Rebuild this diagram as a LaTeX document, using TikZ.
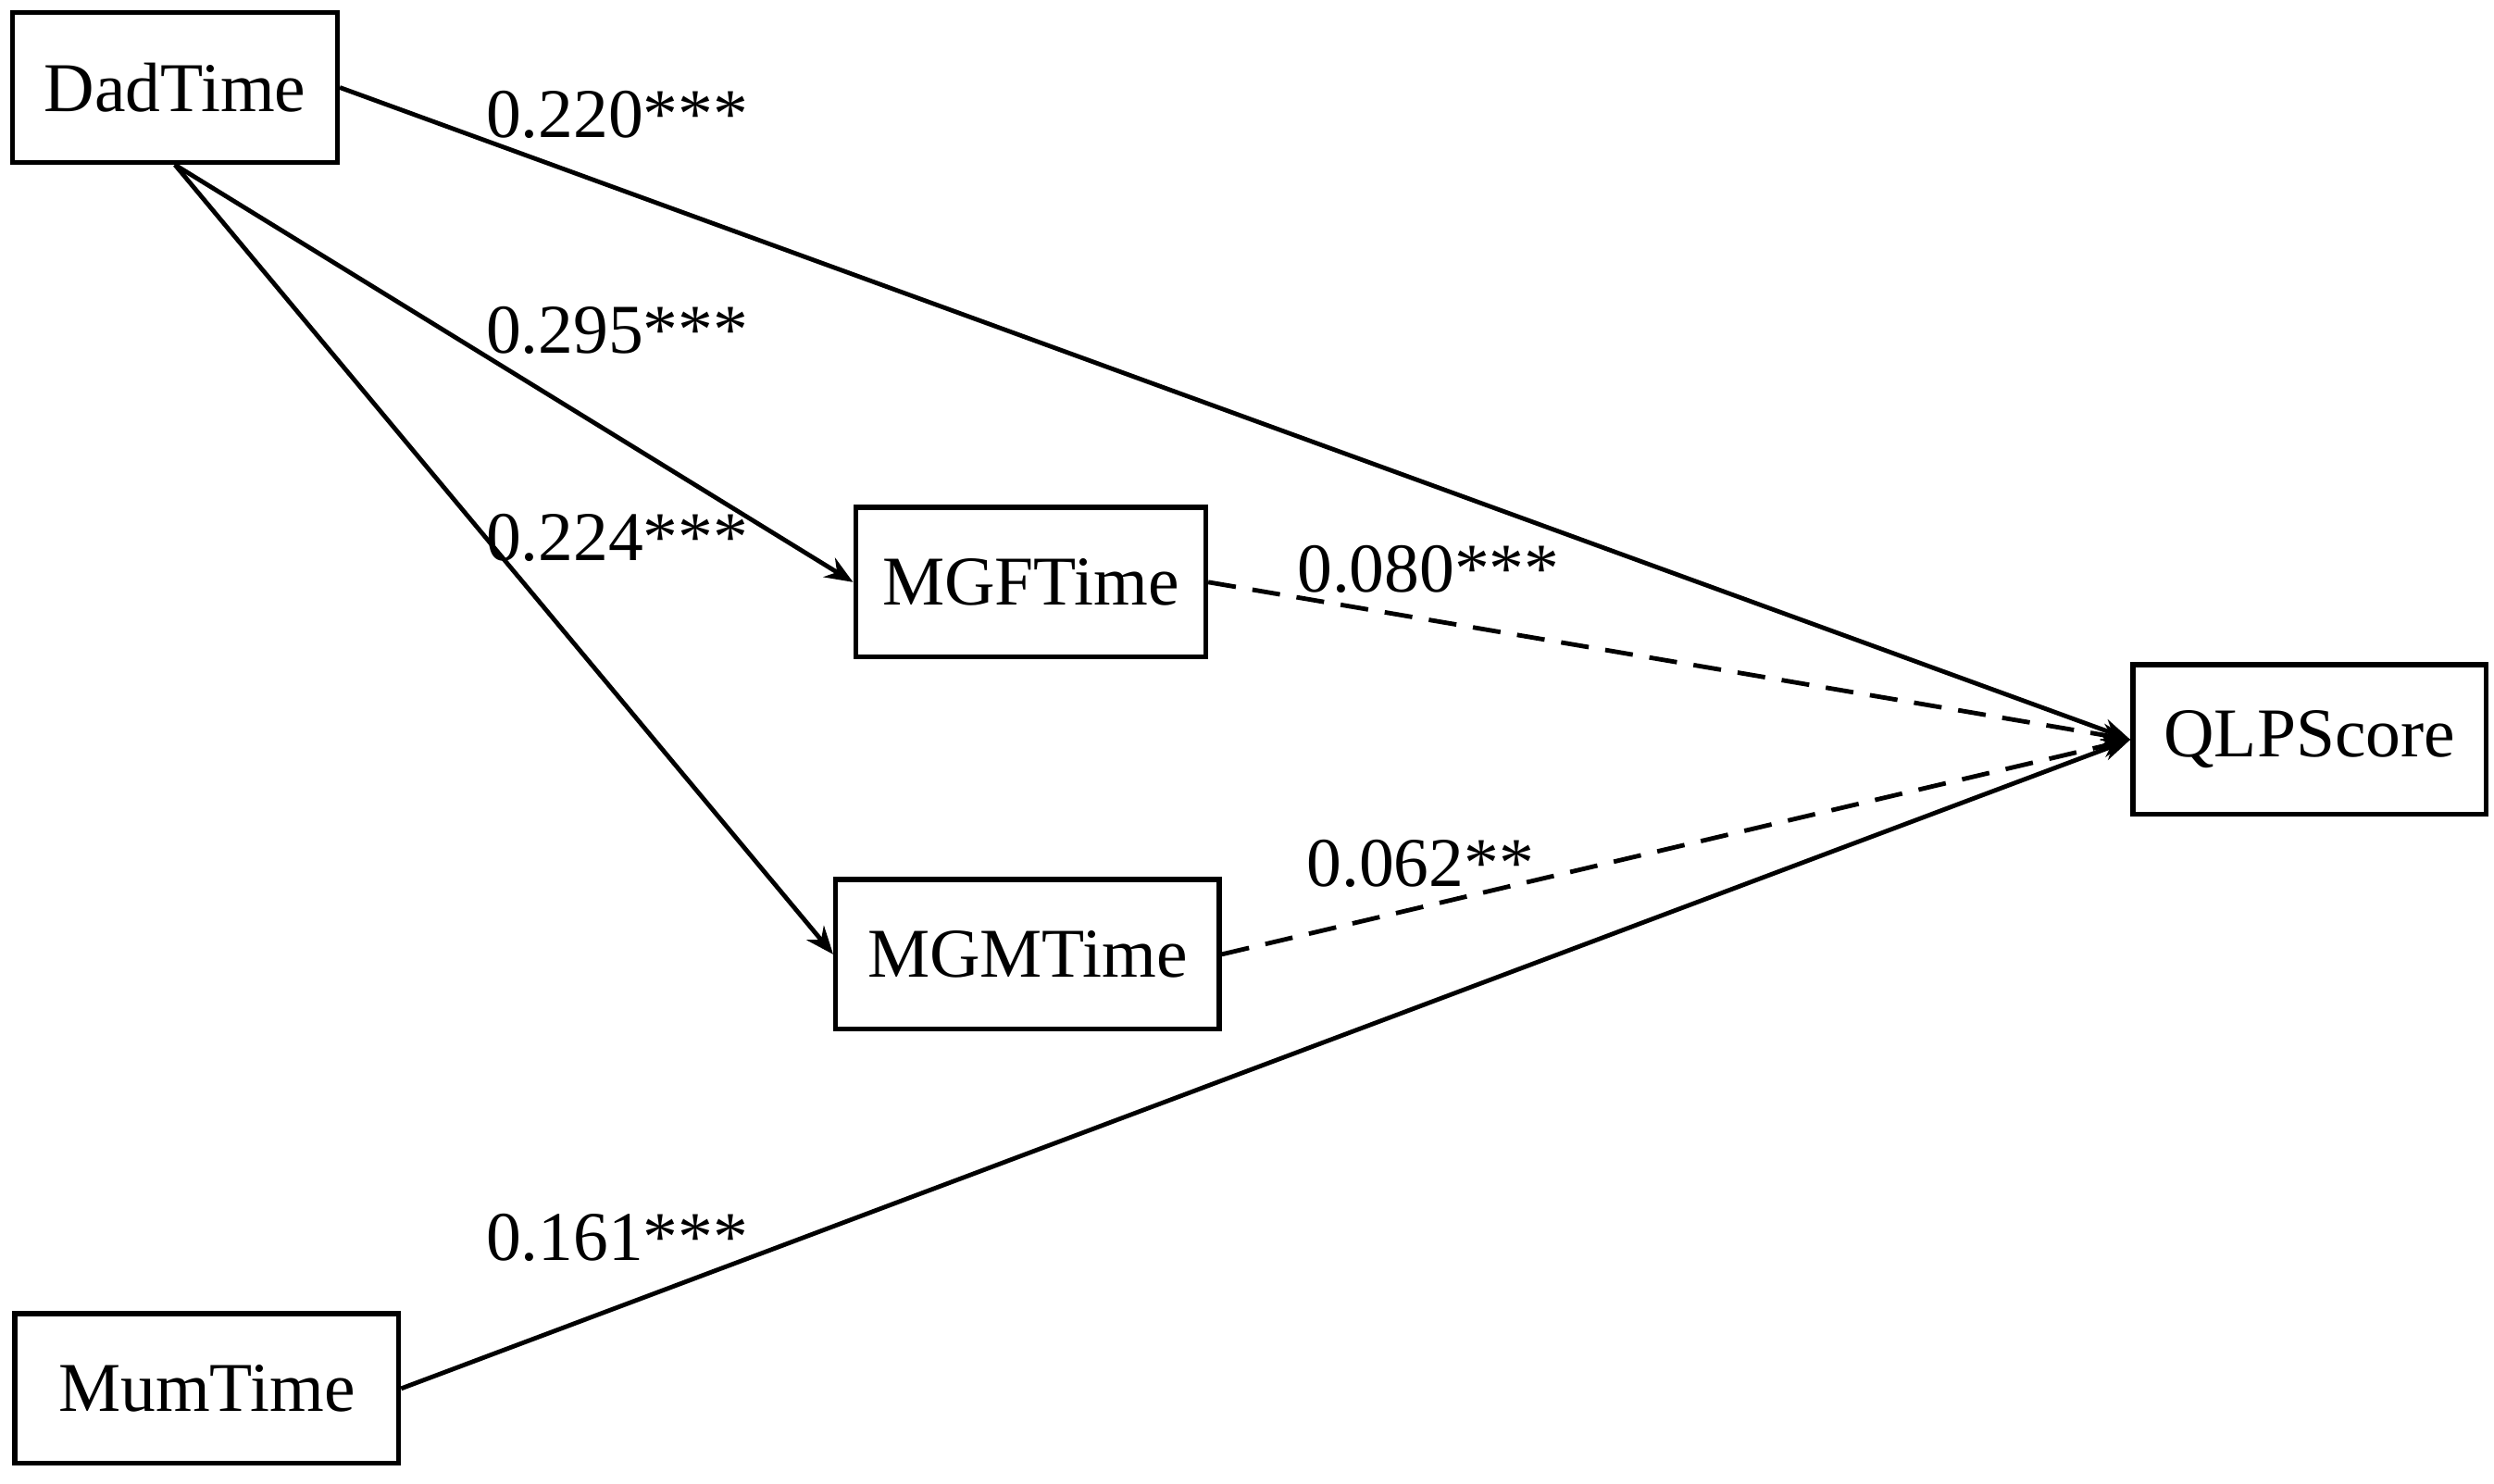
\documentclass[tikz,border=0pt]{standalone}
\usepackage{fontspec}
\setmainfont{Liberation Serif}
\usetikzlibrary{arrows.meta}
\begin{document}
\begin{tikzpicture}[x=0.01cm,y=-0.01cm,
  box/.style={draw,line width=0.9pt,minimum height=0.94cm,inner sep=0pt,font=\fontsize{12.5}{14}\selectfont},
  lab/.style={font=\fontsize{12.5}{14}\selectfont},
  arr/.style={line width=0.8pt,-{Stealth[length=5pt,width=4pt]}},
  dsh/.style={arr,dash pattern=on 5pt off 3pt}]
\useasboundingbox (0,0) rectangle (1568,933);
\node[box,minimum width=2.04cm] (dad) at (110,55) {DadTime};
\node[box,minimum width=2.20cm] (mgf) at (648,366) {MGFTime};
\node[box,minimum width=2.41cm] (mgm) at (646,600) {MGMTime};
\node[box,minimum width=2.22cm] (qlp) at (1452,465) {QLPScore};
\node[box,minimum width=2.41cm] (mum) at (130,873) {MumTime};
\coordinate (q) at (qlp.west);
\draw[arr] (dad.east) -- (q);
\draw[arr] (dad.south) -- (mgf.west);
\draw[arr] (dad.south) -- (mgm.west);
\draw[dsh] (mgf.east) -- (q);
\draw[dsh] (mgm.east) -- (q);
\draw[arr] (mum.east) -- (q);
\node[lab] (l1) at (388,72) {0.220***};
\node[lab] (l2) at (388,208) {0.295***};
\node[lab] (l3) at (388,338) {0.224***};
\node[lab] (l4) at (898,358) {0.080***};
\node[lab] (l5) at (893,543) {0.062**};
\node[lab] (l6) at (388,778) {0.161***};
\end{tikzpicture}
\end{document}
